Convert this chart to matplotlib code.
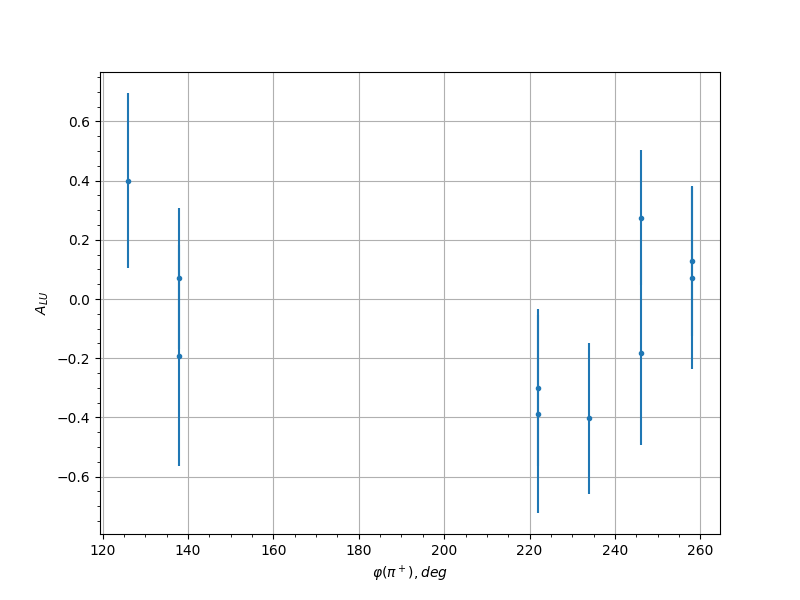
import matplotlib
matplotlib.use("Agg")
import matplotlib.pyplot as plt

phi = [126, 138, 138, 222, 222, 234, 246, 246, 258, 258]
alu = [0.400, 0.070, -0.191, -0.299, -0.388, -0.403, 0.274, -0.181, 0.128, 0.070]
err = [0.296, 0.238, 0.374, 0.265, 0.335, 0.256, 0.228, 0.312, 0.254, 0.308]

fig, ax = plt.subplots(figsize=(8, 6), dpi=100)
ax.errorbar(phi, alu, yerr=err, fmt='o', markersize=3, color='#1f77b4')
ax.set_xlabel(r'$\varphi(\pi^+), deg$')
ax.set_ylabel(r'$A_{LU}$')
ax.minorticks_on()
ax.grid(True, which='major')
fig.savefig('out.png')
